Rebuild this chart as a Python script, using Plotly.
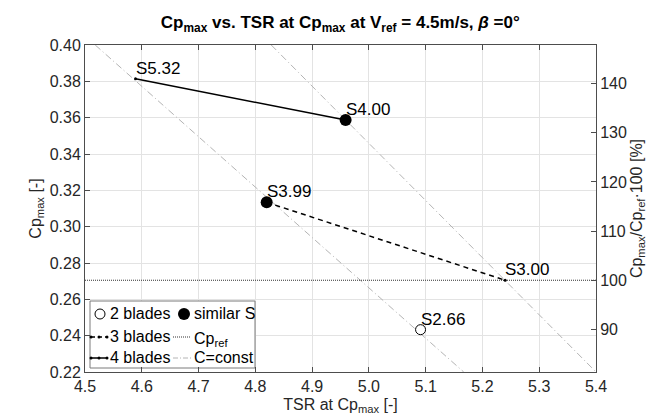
import plotly.graph_objects as go

# ---------------- data ----------------
tsr_2b = [5.091]
cp_2b = [0.2433]
lab_2b = ["S2.66"]

tsr_3b = [4.820, 5.240]
cp_3b = [0.3134, 0.2705]
lab_3b = ["S3.99", "S3.00"]

tsr_4b = [4.589, 4.959]
cp_4b = [0.3814, 0.3587]
lab_4b = ["S5.32", "S4.00"]

tsr_sim = [4.820, 4.959]
cp_sim = [0.3134, 0.3587]

cp_ref = 0.2705

c1_tsr = [4.518, 5.167]
c1_cp = [0.400, 0.220]
c2_tsr = [4.828, 5.400]
c2_cp = [0.400, 0.220]

x_ticks = [4.5, 4.6, 4.7, 4.8, 4.9, 5.0, 5.1, 5.2, 5.3, 5.4]
y_ticks = [0.22, 0.24, 0.26, 0.28, 0.30, 0.32, 0.34, 0.36, 0.38, 0.40]
y2_ticks = [90, 100, 110, 120, 130, 140]

x_range = [4.5, 5.4]
y_range = [0.22, 0.40]

FONT = "Liberation Sans, Arial, Helvetica, sans-serif"
FS = 15
AX = "#4d4d4d"
GRID = "#e3e3e3"
CC = "#b4b4b4"

fig = go.Figure()

# C = const lines
for xs, ys in [(c1_tsr, c1_cp), (c2_tsr, c2_cp)]:
    fig.add_trace(go.Scatter(x=xs, y=ys, mode="lines",
                             line=dict(color=CC, width=1, dash="7px,3px,1px,3px"),
                             showlegend=False, hoverinfo="skip"))

# Cp_ref line
fig.add_trace(go.Scatter(x=x_range, y=[cp_ref, cp_ref], mode="lines",
                         line=dict(color="#333333", width=1.2, dash="1px,1px"),
                         showlegend=False, hoverinfo="skip"))

# 3 blades
fig.add_trace(go.Scatter(x=tsr_3b, y=cp_3b, mode="lines+markers",
                         line=dict(color="black", width=1.5, dash="5px,4px"),
                         marker=dict(size=3, color="black"), showlegend=False))
# 4 blades
fig.add_trace(go.Scatter(x=tsr_4b, y=cp_4b, mode="lines+markers",
                         line=dict(color="black", width=1.5),
                         marker=dict(size=3, color="black"), showlegend=False))
# 2 blades
fig.add_trace(go.Scatter(x=tsr_2b, y=cp_2b, mode="markers",
                         marker=dict(size=10, color="white", symbol="circle",
                                     line=dict(color="black", width=1)),
                         showlegend=False))
# similar S
fig.add_trace(go.Scatter(x=tsr_sim, y=cp_sim, mode="markers",
                         marker=dict(size=12, color="black"), showlegend=False))

# right axis dummy
fig.add_trace(go.Scatter(x=[x_range[0]], y=[100], yaxis="y2", mode="markers",
                         marker=dict(opacity=0), showlegend=False, hoverinfo="skip"))

# point labels
for xs, ys, ls in [(tsr_2b, cp_2b, lab_2b), (tsr_3b, cp_3b, lab_3b), (tsr_4b, cp_4b, lab_4b)]:
    for xv, yv, lv in zip(xs, ys, ls):
        fig.add_annotation(x=xv, y=yv, text=lv, showarrow=False, xanchor="left",
                           yanchor="bottom", xshift=-2, yshift=-1,
                           font=dict(family=FONT, size=17, color="black"))

# ---------------- manual legend (overlay axis in pixel units) ----------------
box_x = [5, 170, 170, 5, 5]
box_y = [256, 256, 323, 323, 256]
fig.add_trace(go.Scatter(x=box_x, y=box_y, xaxis="x3", yaxis="y3", mode="lines",
                         fill="toself", fillcolor="white",
                         line=dict(color="#7a7a7a", width=1),
                         showlegend=False, hoverinfo="skip"))
rows = [269, 292, 313]
# col 1
fig.add_trace(go.Scatter(x=[15], y=[rows[0]], xaxis="x3", yaxis="y3", mode="markers",
                         marker=dict(size=10, color="white", line=dict(color="black", width=1)),
                         showlegend=False, hoverinfo="skip"))
fig.add_trace(go.Scatter(x=[6, 14, 22], y=[rows[1]] * 3, xaxis="x3", yaxis="y3",
                         mode="lines+markers", line=dict(color="black", width=1.5, dash="4px,3px"),
                         marker=dict(size=3, color="black"), showlegend=False, hoverinfo="skip"))
fig.add_trace(go.Scatter(x=[6, 14, 22], y=[rows[2]] * 3, xaxis="x3", yaxis="y3",
                         mode="lines+markers", line=dict(color="black", width=1.5),
                         marker=dict(size=3, color="black"), showlegend=False, hoverinfo="skip"))
# col 2
fig.add_trace(go.Scatter(x=[99], y=[rows[0]], xaxis="x3", yaxis="y3", mode="markers",
                         marker=dict(size=12, color="black"),
                         showlegend=False, hoverinfo="skip"))
fig.add_trace(go.Scatter(x=[88, 106], y=[rows[1]] * 2, xaxis="x3", yaxis="y3",
                         mode="lines", line=dict(color="#333333", width=1, dash="1px,1px"),
                         showlegend=False, hoverinfo="skip"))
fig.add_trace(go.Scatter(x=[88, 106], y=[rows[2]] * 2, xaxis="x3", yaxis="y3",
                         mode="lines", line=dict(color=CC, width=1, dash="5px,2px,1px,2px"),
                         showlegend=False, hoverinfo="skip"))

leg_text = [(23, rows[0], "2 blades"), (107, rows[0], "similar S"),
            (23, rows[1], "3 blades"), (107, rows[1], "Cp<sub>ref</sub>"),
            (23, rows[2], "4 blades"), (107, rows[2], "C=const")]
for xv, yv, t in leg_text:
    fig.add_annotation(x=xv, y=yv, xref="x3", yref="y3", text=t, showarrow=False,
                       xanchor="left", yanchor="middle", yshift=1 if "sub" not in t else -2,
                       font=dict(family=FONT, size=16, color="black"))

# ---------------- layout ----------------
fig.update_layout(
    width=662, height=415,
    margin=dict(l=77, r=74, t=37, b=51),
    paper_bgcolor="white", plot_bgcolor="white",
    font=dict(family=FONT, size=FS, color="#262626"),
    title=dict(text="<b>Cp<sub>max</sub> vs. TSR at Cp<sub>max</sub> at V<sub>ref</sub> = 4.5m/s, <i>β</i> =0°</b>",
               x=0.502, xanchor="center", y=0.98, yanchor="top",
               font=dict(family=FONT, size=17, color="black")),
    xaxis=dict(range=x_range, tickvals=x_ticks, ticktext=[f"{v:.1f}" for v in x_ticks],
               showgrid=True, gridcolor=GRID, gridwidth=1,
               showline=True, linecolor=AX, linewidth=1, mirror="ticks",
               ticks="inside", ticklen=5, tickcolor=AX, zeroline=False,
               title=dict(text="TSR at Cp<sub>max</sub> [-]", standoff=4,
                          font=dict(family=FONT, size=16, color="#262626")),
               tickfont=dict(family=FONT, size=16, color="#262626")),
    yaxis=dict(range=y_range, tickvals=y_ticks, ticktext=[f"{v:.2f}" for v in y_ticks],
               showgrid=True, gridcolor=GRID, gridwidth=1,
               showline=True, linecolor=AX, linewidth=1, mirror=False,
               ticks="inside", ticklen=5, tickcolor=AX, zeroline=False,
               title=dict(text="Cp<sub>max</sub> [-]", standoff=4,
                          font=dict(family=FONT, size=16, color="#262626")),
               tickfont=dict(family=FONT, size=16, color="#262626")),
    yaxis2=dict(range=[y_range[0] / cp_ref * 100, y_range[1] / cp_ref * 100],
                tickvals=y2_ticks, overlaying="y", side="right", anchor="x",
                showgrid=False, showline=True, linecolor=AX, linewidth=1,
                ticks="inside", ticklen=5, tickcolor=AX, zeroline=False,
                title=dict(text="Cp<sub>max</sub>/Cp<sub>ref</sub>·100 [%]", standoff=4,
                           font=dict(family=FONT, size=16, color="#262626")),
                tickfont=dict(family=FONT, size=16, color="#262626")),
    xaxis3=dict(range=[0, 511], overlaying="x", anchor="y3", visible=False,
                showgrid=False, zeroline=False, fixedrange=True),
    yaxis3=dict(range=[327, 0], overlaying="y", anchor="x3", visible=False,
                showgrid=False, zeroline=False, fixedrange=True),
    showlegend=False,
)

fig.write_html("out.html")
